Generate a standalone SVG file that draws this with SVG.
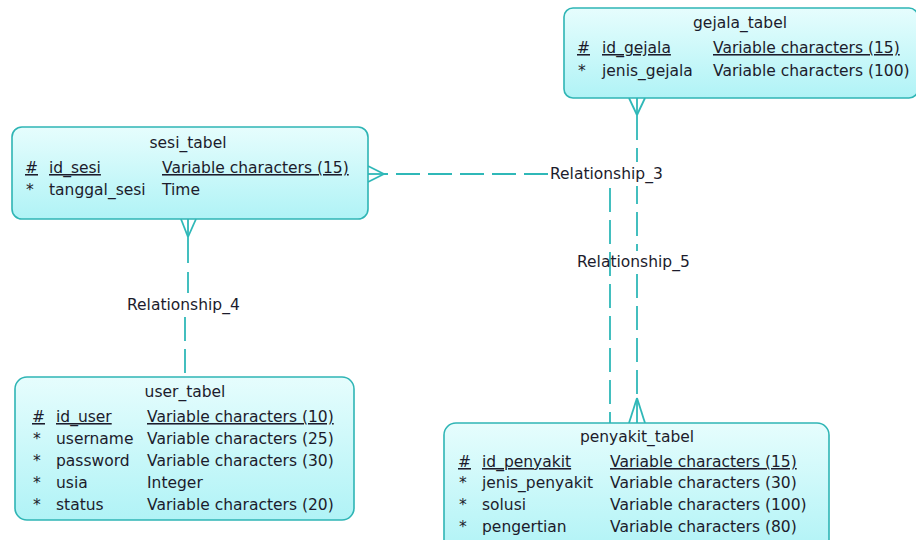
<svg xmlns="http://www.w3.org/2000/svg" width="916" height="540" viewBox="0 0 916 540">
<defs>
<linearGradient id="fill" x1="0" y1="0" x2="0" y2="1">
<stop offset="0" stop-color="#e6fdfd"/>
<stop offset="1" stop-color="#b0f3f6"/>
</linearGradient>
<style>
.box{fill:url(#fill);stroke:#2fb5b5;stroke-width:1.6}
text{font-family:"DejaVu Sans","Liberation Sans",sans-serif;font-size:15.5px;fill:#1c1c2c}
.t{text-anchor:middle}
.u{text-decoration:underline}
.ln{stroke:#2fb8b8;stroke-width:1.8;fill:none}
.d{stroke-dasharray:24 8}
</style>
</defs>
<rect width="916" height="540" fill="#ffffff"/>

<g id="connectors">
<g id="rel5">
<line class="ln" x1="629" y1="98" x2="637" y2="115"/>
<line class="ln" x1="645" y1="98" x2="637" y2="115"/>
<line class="ln" x1="637" y1="98" x2="637" y2="140"/>
<line class="ln d" x1="637" y1="148" x2="637" y2="251"/>
<line class="ln d" x1="637" y1="274" x2="637" y2="398"/>
<line class="ln" x1="637" y1="398" x2="637" y2="423"/>
<line class="ln" x1="629" y1="423" x2="637" y2="398"/>
<line class="ln" x1="645" y1="423" x2="637" y2="398"/>
</g>
<g id="rel3">
<rect x="548" y="162" width="124" height="24" fill="#ffffff"/>
<line class="ln" x1="368" y1="166" x2="384" y2="174"/>
<line class="ln" x1="368" y1="182" x2="384" y2="174"/>
<line class="ln" x1="368" y1="174" x2="384" y2="174"/>
<line class="ln d" x1="548" y1="174" x2="384" y2="174"/>
<line class="ln d" x1="610" y1="188" x2="610" y2="423"/>
<text x="550" y="179">Relationship_3</text>
</g>
<g id="rel4">
<line class="ln" x1="181" y1="219" x2="188" y2="237"/>
<line class="ln" x1="196" y1="219" x2="188" y2="237"/>
<line class="ln" x1="188" y1="219" x2="188" y2="263"/>
<line class="ln d" x1="188" y1="272" x2="188" y2="293"/>
<line class="ln d" x1="185" y1="317" x2="185" y2="377"/>
<text x="127" y="310">Relationship_4</text>
</g>
<text x="577" y="267">Relationship_5</text>
</g>

<g id="gejala_tabel">
<rect class="box" x="564" y="8" width="354" height="90" rx="9"/>
<text class="t" x="740" y="28">gejala_tabel</text>
<text class="u" x="577" y="53">#</text>
<text class="u" x="602" y="53">id_gejala</text>
<text class="u" x="713" y="53">Variable characters (15)</text>
<text x="578" y="76">*</text>
<text x="602" y="76">jenis_gejala</text>
<text x="713" y="76">Variable characters (100)</text>
</g>

<g id="sesi_tabel">
<rect class="box" x="12" y="127" width="356" height="92" rx="10"/>
<text class="t" x="188" y="148">sesi_tabel</text>
<text class="u" x="25" y="173">#</text>
<text class="u" x="49" y="173">id_sesi</text>
<text class="u" x="162" y="173">Variable characters (15)</text>
<text x="26" y="195">*</text>
<text x="49" y="195">tanggal_sesi</text>
<text x="162" y="195">Time</text>
</g>

<g id="user_tabel">
<rect class="box" x="15" y="377" width="339" height="143" rx="12"/>
<text class="t" x="185" y="397">user_tabel</text>
<text class="u" x="32" y="422">#</text>
<text class="u" x="56" y="422">id_user</text>
<text class="u" x="147" y="422">Variable characters (10)</text>
<text x="33" y="444">*</text>
<text x="56" y="444">username</text>
<text x="147" y="444">Variable characters (25)</text>
<text x="33" y="466">*</text>
<text x="56" y="466">password</text>
<text x="147" y="466">Variable characters (30)</text>
<text x="33" y="488">*</text>
<text x="56" y="488">usia</text>
<text x="147" y="488">Integer</text>
<text x="33" y="510">*</text>
<text x="56" y="510">status</text>
<text x="147" y="510">Variable characters (20)</text>
</g>

<g id="penyakit_tabel">
<rect class="box" x="444" y="423" width="385" height="130" rx="12"/>
<text class="t" x="637" y="442">penyakit_tabel</text>
<text class="u" x="458" y="467">#</text>
<text class="u" x="482" y="467">id_penyakit</text>
<text class="u" x="610" y="467">Variable characters (15)</text>
<text x="459" y="488">*</text>
<text x="482" y="488">jenis_penyakit</text>
<text x="610" y="488">Variable characters (30)</text>
<text x="459" y="510">*</text>
<text x="482" y="510">solusi</text>
<text x="610" y="510">Variable characters (100)</text>
<text x="459" y="532">*</text>
<text x="482" y="532">pengertian</text>
<text x="610" y="532">Variable characters (80)</text>
</g>
</svg>
